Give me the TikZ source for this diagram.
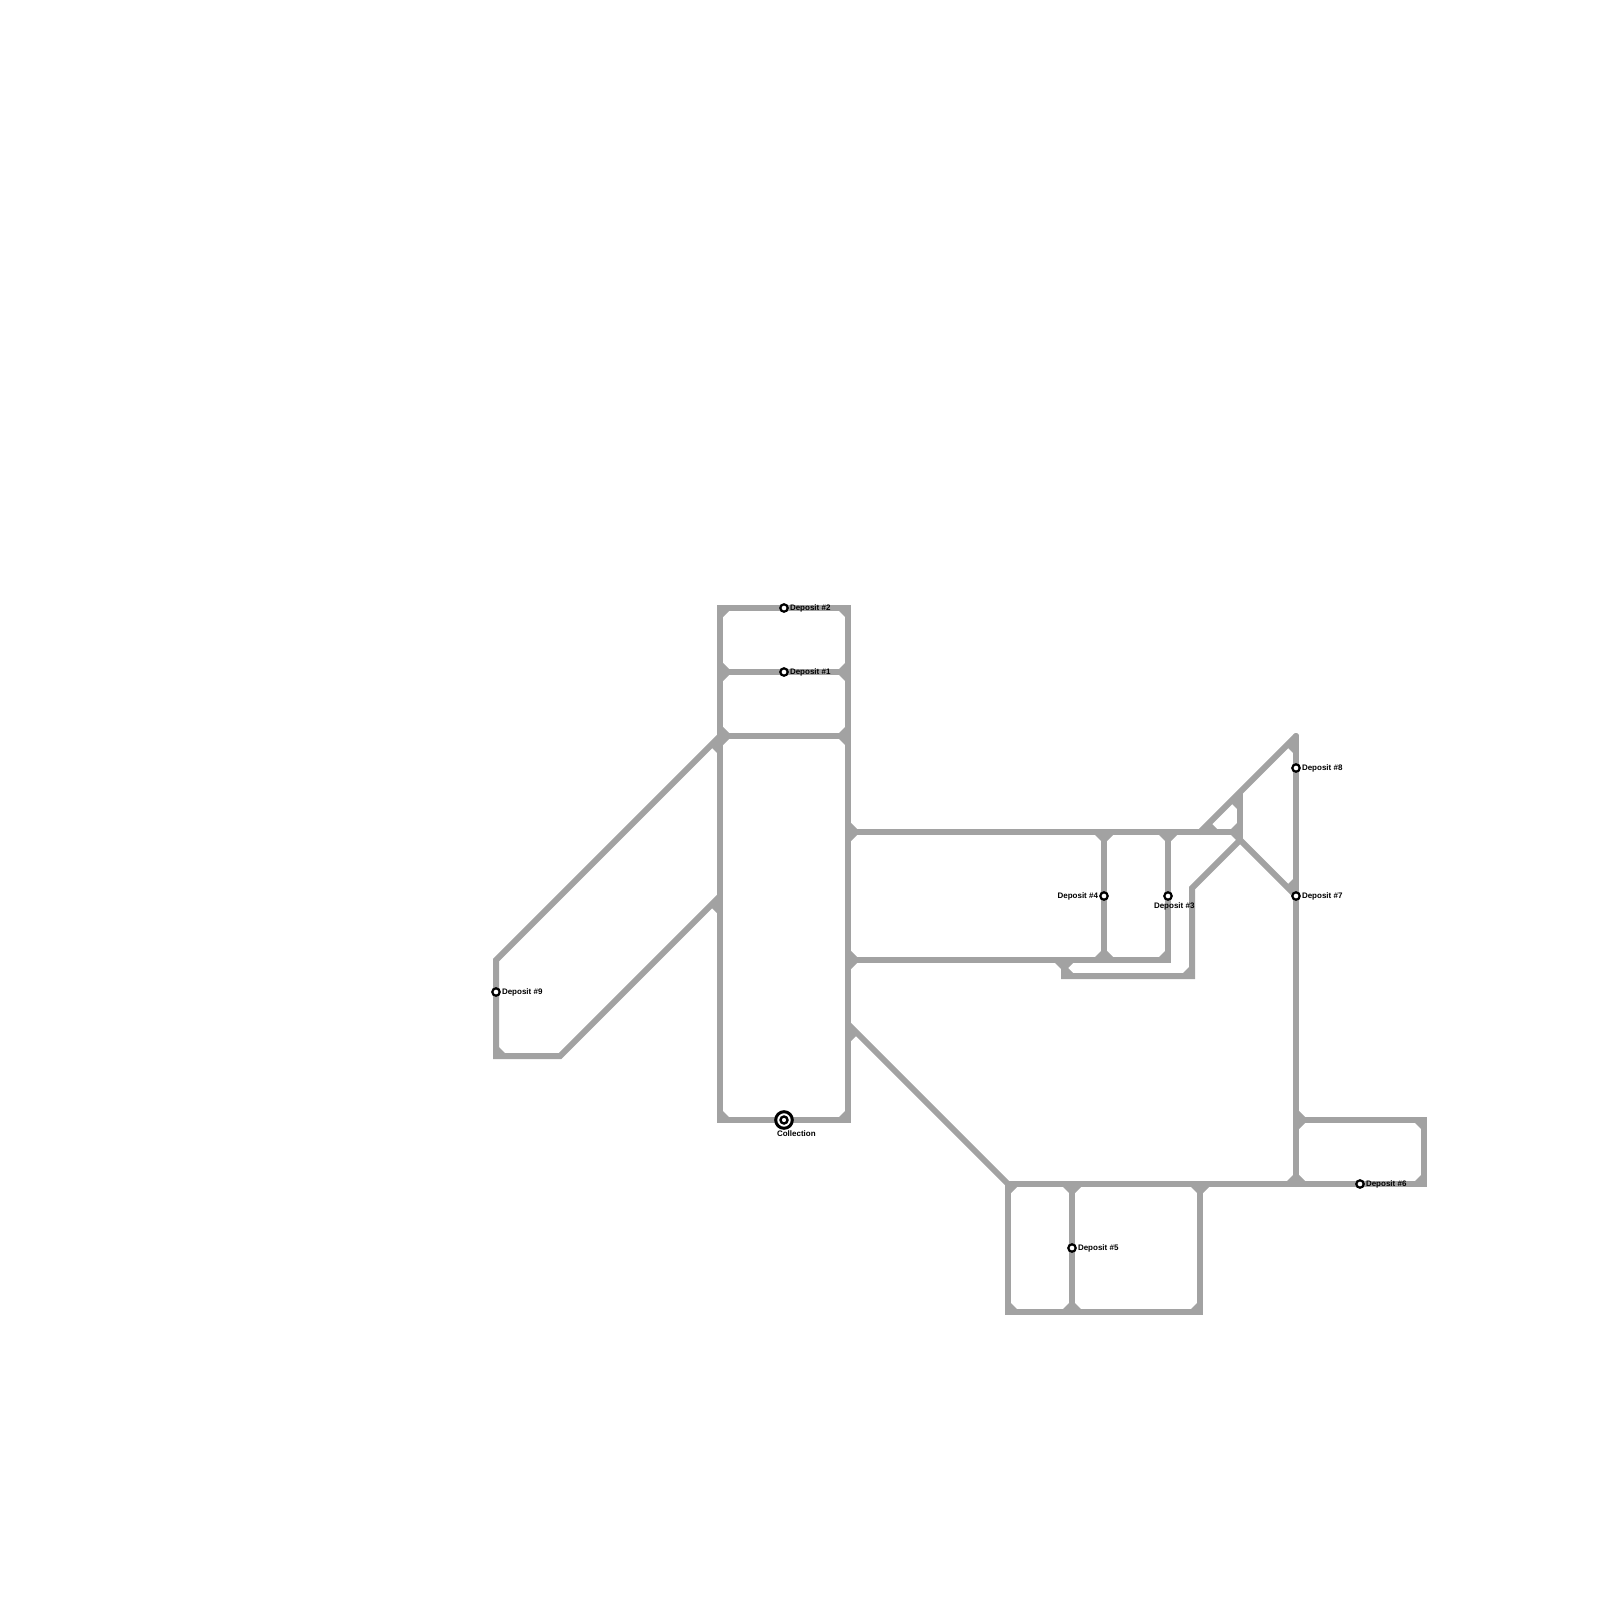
\documentclass[tikz,border=0pt]{standalone}
\usepackage{fontspec}
\setmainfont{Liberation Sans}
\definecolor{track}{HTML}{A2A2A2}
\tikzset{
  trackline/.style={draw=track,line width=6pt,line join=miter,miter limit=4,line cap=butt},
  tracktip/.style={draw=track,line width=6pt,line cap=round},
  nick/.style={fill=track,draw=none},
  depot/.style={circle,draw=black,fill=white,line width=2.2pt,minimum size=7.4pt,inner sep=0pt,outer sep=0pt},
  hubouter/.style={circle,draw=black,fill=white,line width=3pt,minimum size=16.6pt,inner sep=0pt,outer sep=0pt},
  hubinner/.style={circle,draw=black,fill=white,line width=2.4pt,minimum size=7pt,inner sep=0pt,outer sep=0pt},
  tag/.style={font=\fontsize{8}{9.6}\selectfont\bfseries,text=black,inner sep=0pt,outer sep=0pt},
  tagright/.style={tag,anchor=base west},
  tagleft/.style={tag,anchor=base east},
}
\newcommand\nick[3]{\fill[nick] (#1) ++(#2) -- (#1) -- ++(#3) -- cycle;}
\newcommand\cornBR[1]{\nick{#1}{12,0}{0,12}}
\newcommand\cornBL[1]{\nick{#1}{-12,0}{0,12}}
\newcommand\cornTR[1]{\nick{#1}{12,0}{0,-12}}
\newcommand\cornTL[1]{\nick{#1}{-12,0}{0,-12}}
\begin{document}
\begin{tikzpicture}[x=1pt,y=-1pt]
\useasboundingbox (0,0) rectangle (1600,1600);
% junctions
\foreach \n/\x/\y in {
  a1/720/608,a2/720/672,a3/720/736,a4/720/896,a5/720/1120,
  b1/848/608,b2/848/672,b3/848/736,b4/848/832,b5/848/960,b6/848/1024,b7/848/1120,
  c1/496/960,c2/496/1056,c3/560/1056,
  d1/1104/832,d2/1168/832,d3/1200/832,d4/1240/832,d5/1240/792,d6/1240/840,
  e1/1104/960,e2/1168/960,e3/1064/960,e4/1064/976,e5/1192/976,e6/1192/888,
  f1/1296/736,f2/1296/896,f3/1296/1120,f4/1296/1184,f5/1424/1120,f6/1424/1184,
  g1/1008/1184,g2/1072/1184,g3/1200/1184,g4/1008/1312,g5/1072/1312,g6/1200/1312}
  {\coordinate (\n) at (\x,\y);}
% tracks
\draw[trackline] (a3) -- (a1) -- (b1) -- (b3);
\draw[trackline] (a2) -- (b2);
\draw[trackline] (a3) -- (b3);
\draw[trackline] (a3) -- (a5) -- (b7) -- (b3);
\draw[trackline] (a3) -- (c1) -- (c2) -- (c3) -- (a4);
\draw[trackline] (b4) -- (d4);
\draw[trackline] (b5) -- (e2) -- (d2);
\draw[trackline] (d1) -- (e1);
\draw[trackline] (e3) -- (e4) -- (e5) -- (e6) -- (d6);
\draw[trackline] (d5) -- (d6);
\draw[tracktip] (d3) -- (f1);
\draw[tracktip] (f1) -- (f4);
\draw[trackline] (d6) -- (f2);
\draw[trackline] (b6) -- (g1);
\draw[trackline] (f3) -- (f5) -- (f6) -- (g1) -- (g4) -- (g6) -- (g3);
\draw[trackline] (g2) -- (g5);
% junction fillets
\cornBR{a1}\cornBL{b1}
\cornTR{a2}\cornBR{a2}\cornTL{b2}\cornBL{b2}
\cornTR{a3}\cornBR{a3}\cornTL{b3}\cornBL{b3}
\cornTR{a5}\cornTL{b7}
\cornTR{b4}\cornBR{b4}\cornTR{b5}\cornBR{b5}
\cornBL{d1}\cornBR{d1}\cornBL{d2}\cornBR{d2}
\cornTL{d4}\cornBL{d4}
\cornTL{e1}\cornTR{e1}\cornTL{e2}
\cornBL{e3}\cornBR{e3}\cornTR{e4}\cornTL{e5}
\cornTR{f3}\cornBR{f3}\cornTR{f4}\cornTL{f4}
\cornBL{f5}\cornTL{f6}
\cornBR{g1}\cornBL{g2}\cornBR{g2}\cornBL{g3}\cornBR{g3}
\cornTR{g4}\cornTL{g5}\cornTR{g5}\cornTL{g6}
\cornTR{c2}
\nick{a3}{0,20}{-10,10}
\nick{a4}{0,20}{-10,10}
\nick{b6}{0,20}{10,10}
\nick{d3}{20,0}{10,-10}
\nick{d5}{0,20}{-10,10}
\nick{f1}{0,20}{-10,10}
\nick{f2}{0,-20}{-10,-10}
% stations
\node[depot] (s1) at (784,672) {};
\node[depot] (s2) at (784,608) {};
\node[depot] (s3) at (1168,896) {};
\node[depot] (s4) at (1104,896) {};
\node[depot] (s5) at (1072,1248) {};
\node[depot] (s6) at (1360,1184) {};
\node[depot] (s7) at (1296,896) {};
\node[depot] (s8) at (1296,768) {};
\node[depot] (s9) at (496,992) {};
\node[hubouter] (hub) at (784,1120) {};
\node[hubinner] (hubc) at (784,1120) {};
% labels
\node[tagright] (t1) at (790,674) {Deposit \#1};
\node[tagright] (t2) at (790,610) {Deposit \#2};
\node[tagright] (t3) at (1154,908) {Deposit \#3};
\node[tagleft] (t4) at (1098,898) {Deposit \#4};
\node[tagright] (t5) at (1078,1250) {Deposit \#5};
\node[tagright] (t6) at (1366,1186) {Deposit \#6};
\node[tagright] (t7) at (1302,898) {Deposit \#7};
\node[tagright] (t8) at (1302,770) {Deposit \#8};
\node[tagright] (t9) at (502,994) {Deposit \#9};
\node[tagright] (t0) at (777,1136) {Collection};
\end{tikzpicture}
\end{document}
